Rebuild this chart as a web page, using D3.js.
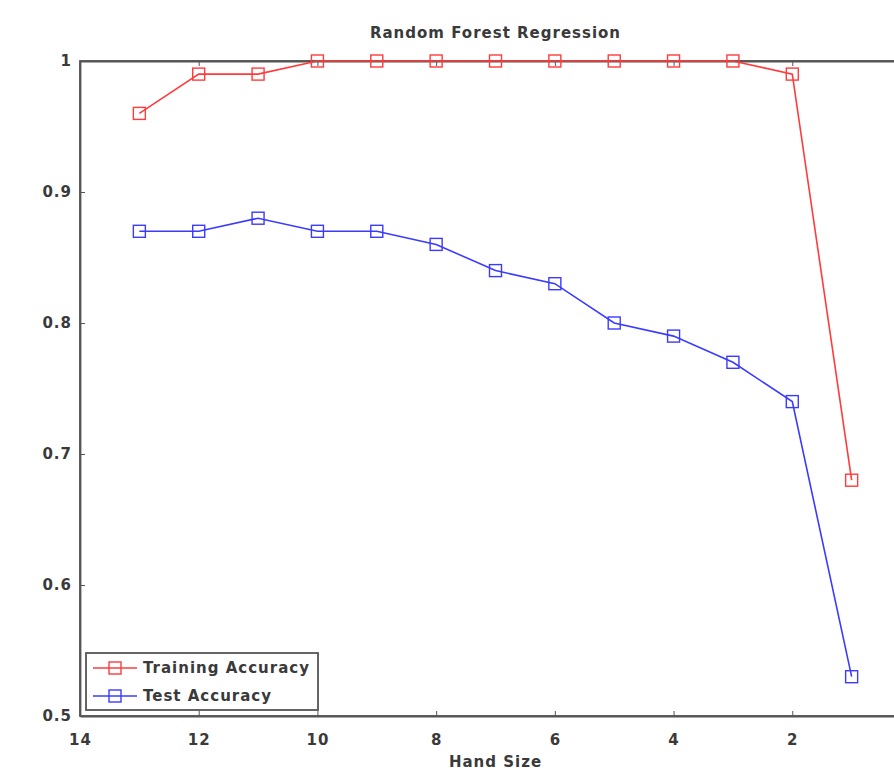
<!DOCTYPE html>
<html>
<head>
<meta charset="utf-8">
<script src="https://cdn.jsdelivr.net/npm/d3@7"></script>
<style>
  body { margin: 0; background: #fff; }
  svg { display: block; font-family: "DejaVu Sans", Verdana, sans-serif; }
  text { font-weight: bold; letter-spacing: 1px; }
</style>
</head>
<body>
<svg id="svg" width="894" height="772"></svg>
<script>
// データ
const handSize = [13, 12, 11, 10, 9, 8, 7, 6, 5, 4, 3, 2, 1];
const trainAcc = [0.96, 0.99, 0.99, 1, 1, 1, 1, 1, 1, 1, 1, 0.99, 0.68];
const testAcc = [0.87, 0.87, 0.88, 0.87, 0.87, 0.86, 0.84, 0.83, 0.80, 0.79, 0.77, 0.74, 0.53];
const xTicks = [14, 12, 10, 8, 6, 4, 2];
const yTicks = [0.5, 0.6, 0.7, 0.8, 0.9, 1];
const seriesNames = ["Training Accuracy", "Test Accuracy"];
const seriesColors = ["#ff3b3b", "#3b3bff"];

const svg = d3.select("#svg");
// プロット領域の範囲（右端は画面外）
const plotL = 80, plotR = 911, plotT = 61, plotB = 716;

// 軸のスケール（x軸は反転）
const x = d3.scaleLinear().domain([14, 0]).range([plotL, plotR]);
const y = d3.scaleLinear().domain([0.5, 1]).range([plotB, plotT]);

const axisColor = "#555";
const textColor = "#3a3a3a";
const fontSize = 15;

// 枠
svg.append("rect")
  .attr("x", plotL).attr("y", plotT)
  .attr("width", plotR - plotL).attr("height", plotB - plotT)
  .attr("fill", "none").attr("stroke", axisColor).attr("stroke-width", 1.8);

// x軸（下）
const xAxis = svg.append("g")
  .attr("transform", `translate(0,${plotB})`)
  .call(d3.axisBottom(x).tickValues(xTicks).tickSizeInner(-5).tickSizeOuter(0).tickPadding(18).tickFormat(d3.format("d")));
// x軸（上）
const xAxisTop = svg.append("g")
  .attr("transform", `translate(0,${plotT})`)
  .call(d3.axisTop(x).tickValues(xTicks).tickSizeInner(-5).tickSizeOuter(0).tickFormat(""));
// y軸
const yAxis = svg.append("g")
  .attr("transform", `translate(${plotL},0)`)
  .call(d3.axisLeft(y).tickValues(yTicks).tickSizeInner(-5).tickSizeOuter(0).tickPadding(8).tickFormat(d => d === 1 ? "1" : d3.format(".1f")(d)));

[xAxis, xAxisTop, yAxis].forEach(g => {
  g.select(".domain").attr("stroke", axisColor).attr("stroke-width", 1.8);
  g.selectAll(".tick line").attr("stroke", axisColor).attr("stroke-width", 1);
  g.selectAll(".tick text").attr("fill", textColor).attr("font-size", fontSize)
    .attr("font-family", "DejaVu Sans, Verdana, sans-serif");
});

// タイトルと軸ラベル
svg.append("text")
  .attr("x", (plotL + plotR) / 2).attr("y", 38)
  .attr("text-anchor", "middle").attr("font-size", fontSize).attr("fill", textColor)
  .text("Random Forest Regression");
svg.append("text")
  .attr("x", (plotL + plotR) / 2).attr("y", 767)
  .attr("text-anchor", "middle").attr("font-size", fontSize).attr("fill", textColor)
  .text("Hand Size");

// データ線とマーカー
const line = d3.line().x(d => x(d[0])).y(d => y(d[1]));
[trainAcc, testAcc].forEach((vals, i) => {
  const pts = handSize.map((h, j) => [h, vals[j]]);
  svg.append("path")
    .datum(pts)
    .attr("d", line)
    .attr("fill", "none")
    .attr("stroke", seriesColors[i])
    .attr("stroke-width", 1.6);
  svg.selectAll(".mk" + i)
    .data(pts)
    .enter()
    .append("rect")
    .attr("class", "mk" + i)
    .attr("x", d => x(d[0]) - 6)
    .attr("y", d => y(d[1]) - 6)
    .attr("width", 12).attr("height", 12)
    .attr("fill", "none")
    .attr("stroke", seriesColors[i])
    .attr("stroke-width", 1.4);
});

// 凡例
const legend = svg.append("g").attr("transform", "translate(86,653)");
legend.append("rect")
  .attr("x", 0).attr("y", 0).attr("width", 232).attr("height", 57)
  .attr("fill", "#fff").attr("stroke", axisColor).attr("stroke-width", 1.8);
seriesNames.forEach((name, i) => {
  const ly = 15 + i * 28;
  legend.append("line")
    .attr("x1", 7).attr("x2", 51).attr("y1", ly).attr("y2", ly)
    .attr("stroke", seriesColors[i]).attr("stroke-width", 1.6);
  legend.append("rect")
    .attr("x", 23).attr("y", ly - 6).attr("width", 12).attr("height", 12)
    .attr("fill", "none").attr("stroke", seriesColors[i]).attr("stroke-width", 1.4);
  legend.append("text")
    .attr("x", 57).attr("y", ly + 5)
    .attr("font-size", fontSize).attr("fill", textColor)
    .text(name);
});
</script>
</body>
</html>
